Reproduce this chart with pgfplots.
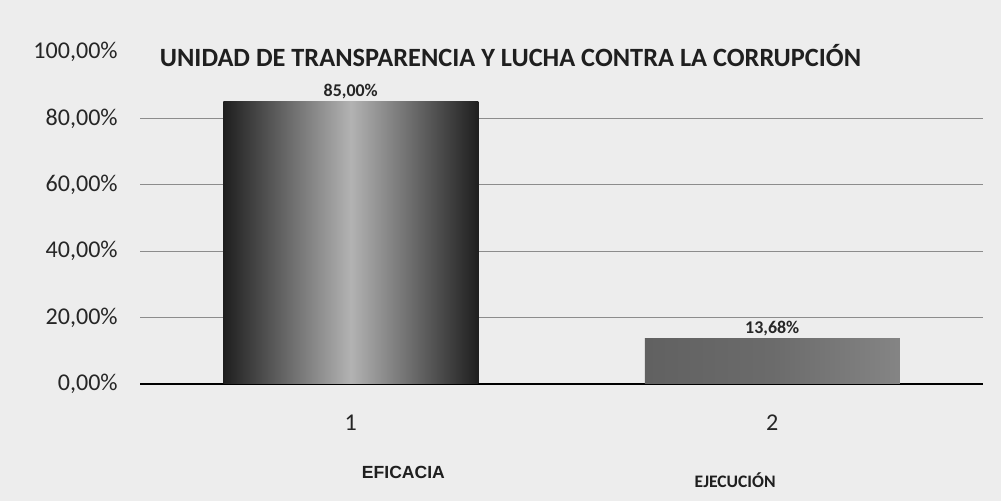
\documentclass[border=0pt]{standalone}
\usepackage{pgfplots}
\pgfplotsset{compat=1.18}
\usepackage{fontspec}
\setmainfont{Carlito}
\newfontfamily\arialfont{Liberation Sans}
\definecolor{paper}{rgb}{0.93,0.93,0.93}
\begin{document}
\begin{tikzpicture}
\fill[paper] (0,0) rectangle (20.02cm,10.02cm);
\useasboundingbox (0,0) rectangle (20.02cm,10.02cm);
\begin{axis}[
    at={(2.8cm,2.34cm)}, anchor=south west,
    scale only axis,
    width=16.86cm, height=6.64cm,
    xmin=-0.5, xmax=1.5,
    ymin=0, ymax=100,
    clip=false,
    ybar, bar width=5.1cm, bar shift=0pt,
    xtick={0,1}, xticklabels={1,2},
    ytick={0,20,40,60,80},
    extra y ticks={100},
    extra y tick style={grid=none},
    ymajorgrids,
    grid style={black!45, line width=0.6pt},
    major tick length=0pt,
    axis x line*=bottom, axis y line*=left,
    y axis line style={draw=none},
    x axis line style={black, line width=1.6pt, -},
    /pgf/number format/.cd, fixed, fixed zerofill, precision=2, use comma, assume math mode=true,
    /pgfplots/.cd,
    yticklabel={\pgfmathprintnumber{\tick}\%},
    yticklabel style={anchor=east, inner sep=0pt, xshift=-0.44cm, font=\fontsize{13.7}{16}\selectfont, text=black!85},
    xticklabel style={anchor=center, yshift=-0.78cm, font=\fontsize{13.7}{16}\selectfont, text=black!85},
    nodes near coords={\pgfmathprintnumber{\pgfplotspointmeta}\%},
    every node near coord/.append style={font=\bfseries\fontsize{10.2}{12}\selectfont, inner sep=1.5pt, text=black!85},
]
\addplot[draw=none, left color=black!88, right color=black!88, middle color=black!30] coordinates {(0,85)};
\addplot[draw=none, left color=black!62, right color=black!48, middle color=black!58] coordinates {(1,13.68)};
\node[font=\bfseries\fontsize{15}{18}\selectfont, text=black!88] at (axis cs:0.379,99) {UNIDAD DE TRANSPARENCIA Y LUCHA CONTRA LA CORRUPCIÓN};
\node[font=\arialfont\bfseries\fontsize{10}{12}\selectfont, text=black!88] at (axis cs:0.125,-26.5) {EFICACIA};
\node[font=\bfseries\fontsize{10}{12}\selectfont, text=black!88] at (axis cs:0.912,-28.9) {EJECUCIÓN};
\end{axis}
\end{tikzpicture}
\end{document}
